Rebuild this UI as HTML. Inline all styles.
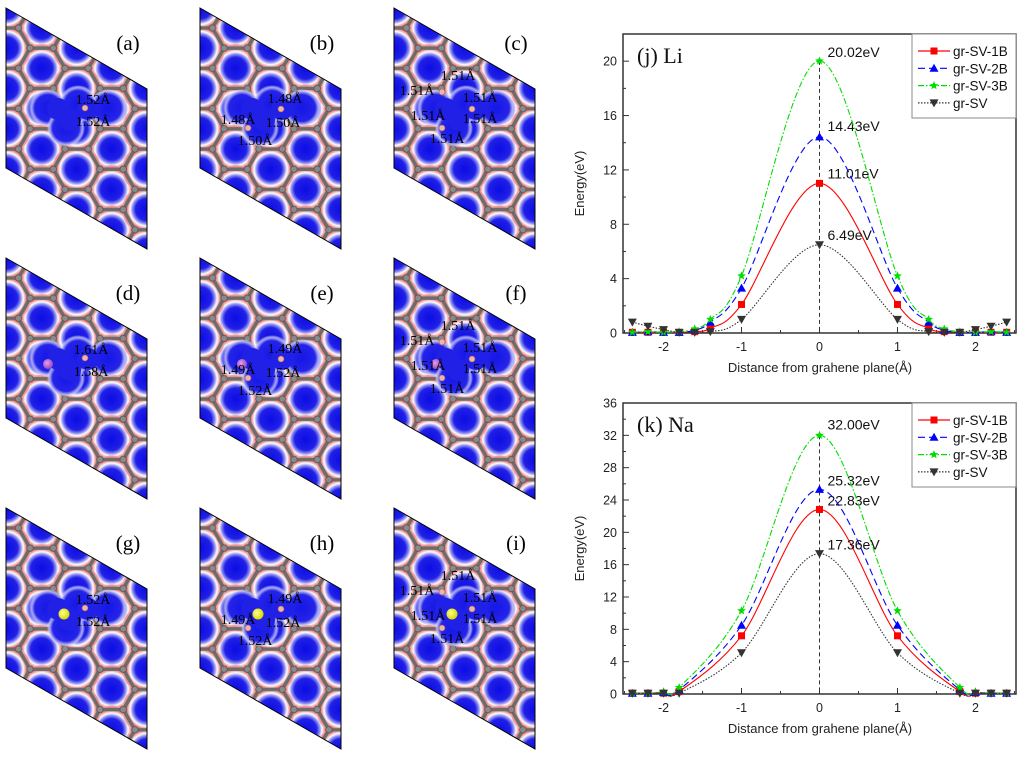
<!DOCTYPE html>
<html><head><meta charset="utf-8"><style>
html,body{margin:0;padding:0;background:#fff;}
svg{display:block;font-family:"Liberation Sans",sans-serif;}
.ser{font-family:"Liberation Serif",serif;}
</style></head><body>
<svg id="fig" width="1024" height="759" viewBox="0 0 1024 759" xmlns="http://www.w3.org/2000/svg">
<defs>
<radialGradient id="cg" cx="50%" cy="50%" r="50%">
<stop offset="0" stop-color="#0c0ce6"/><stop offset="0.45" stop-color="#2020e6"/><stop offset="0.58" stop-color="#8c8cf2"/><stop offset="0.68" stop-color="#ffffff"/><stop offset="0.82" stop-color="#ea6a6a"/><stop offset="1" stop-color="#f3a8a8"/>
</radialGradient>
<radialGradient id="bg" cx="50%" cy="50%" r="50%">
<stop offset="0" stop-color="#1616e8"/><stop offset="0.7" stop-color="#2424e8"/><stop offset="0.86" stop-color="#a8a8f4"/><stop offset="1" stop-color="#ffffff" stop-opacity="0"/>
</radialGradient>
<radialGradient id="yb" cx="40%" cy="40%" r="60%"><stop offset="0" stop-color="#ffff90"/><stop offset="1" stop-color="#d8d800"/></radialGradient>
<radialGradient id="pb" cx="40%" cy="40%" r="60%"><stop offset="0" stop-color="#e0a0f0"/><stop offset="1" stop-color="#9a4ab8"/></radialGradient>
</defs>
<g id="panels"></g>
<g id="charts"></g>
</svg>
<script>
var NS="http://www.w3.org/2000/svg";
function mk(t,a,p){var e=document.createElementNS(NS,t);for(var k in a)e.setAttribute(k,a[k]);if(p)p.appendChild(e);return e;}
var fig=document.getElementById('fig'),defs=fig.querySelector('defs');
var panelsG=document.getElementById('panels');

/* ---------- structure panels ---------- */
var panelOrigins=[[6,8],[200,8],[394,8],[6,258],[200,258],[394,258],[6,508],[200,508],[394,508]];
var panelLetters=['a','b','c','d','e','f','g','h','i'];
var labelsA=[['1.52Å',87,91],['1.52Å',87,113]];
var labelsB=[['1.48Å',85,90],['1.50Å',83,114],['1.48Å',38,111],['1.50Å',55,132]];
var labelsC=[['1.51Å',64,67],['1.51Å',23,82],['1.51Å',86,89],['1.51Å',34,107],['1.51Å',86,110],['1.51Å',53,130]];
var labelsD=[['1.61Å',85,91],['1.58Å',85,113]];
var labelsE=[['1.49Å',85,90],['1.52Å',83,114],['1.49Å',38,111],['1.52Å',55,132]];
var panelLabels=[labelsA,labelsB,labelsC,labelsD,labelsE,labelsC,labelsA,labelsE,labelsC];
var defectAtoms=[[[79,100]],[[81,101],[48,120]],[[48,84],[78,101],[48,120]]];
var R=23.3,W=3*R,H=Math.sqrt(3)*R;
function hexPts(cx,cy){var s='';for(var k=0;k<6;k++){var a=k*Math.PI/3;s+=(cx+R*Math.cos(a)).toFixed(1)+','+(cy+R*Math.sin(a)).toFixed(1)+' ';}return s;}
panelOrigins.forEach(function(o,i){
  var px=o[0],py=o[1];
  var pat=mk('pattern',{id:'pat'+i,patternUnits:'userSpaceOnUse',width:W,height:H,patternTransform:'translate('+(px+35.7)+','+(py+60.3)+')'},defs);
  mk('rect',{x:0,y:0,width:W,height:H,fill:'#f3a8a8'},pat);
  var cs=[[0,0],[W,0],[0,H],[W,H],[W/2,H/2]];
  cs.forEach(function(c){mk('circle',{cx:c[0],cy:c[1],r:R+1,fill:'url(#cg)'},pat);});
  cs.forEach(function(c){mk('polygon',{points:hexPts(c[0],c[1]),fill:'none',stroke:'#6c6c6c','stroke-width':3.4},pat);});
  cs.forEach(function(c){for(var k=0;k<6;k++){var a=k*Math.PI/3;mk('circle',{cx:c[0]+R*Math.cos(a),cy:c[1]+R*Math.sin(a),r:3.2,fill:'#8a8a8a',stroke:'#505050','stroke-width':0.6},pat);}});
  var g=mk('g',{transform:'translate('+px+','+py+')'},panelsG);
  
  
  var cp=mk('clipPath',{id:'clip'+i},defs);
  mk('polygon',{points:(px)+','+(py)+' '+(px+141)+','+(py+81)+' '+(px+141)+','+(py+241)+' '+(px)+','+(py+160)},cp);
  var inner=mk('g',{'clip-path':'url(#clip'+i+')',transform:'translate('+(-px)+','+(-py)+')'},g);
  mk('rect',{x:px,y:py,width:141,height:241,fill:'url(#pat'+i+')'},inner);
  var blob=mk('g',{transform:'translate('+px+','+py+')'},inner);
  [[42,100],[102,100],[60,120],[72,96]].forEach(function(c){mk('circle',{cx:c[0],cy:c[1],r:19,fill:'url(#bg)'},blob);});
  [[52,101],[82,101],[64,112]].forEach(function(c){mk('circle',{cx:c[0],cy:c[1],r:11,fill:'#2020e6'},blob);});
  mk('polygon',{points:'0,0 141,81 141,241 0,160',fill:'none',stroke:'#000','stroke-width':1},g);
  var da=defectAtoms[i%3];
  da.forEach(function(a){mk('circle',{cx:a[0],cy:a[1],r:3,fill:'#f0b4a8',stroke:'#a06060','stroke-width':0.6},g);});
  var row=Math.floor(i/3);
  if(row===1){var m=mk('circle',{cx:42,cy:106,r:5,fill:'url(#pb)'},g);}
  if(row===2){var m2=mk('circle',{cx:58,cy:106,r:5.5,fill:'url(#yb)'},g);}
  panelLabels[i].forEach(function(l){
    var t=mk('text',{x:l[1],y:l[2]+5,'text-anchor':'middle','font-size':14,'class':'ser',fill:'#000'},g);
    t.textContent=l[0];
    
    
  });
  var pl=mk('text',{x:122,y:42,'text-anchor':'middle','font-size':21,'class':'ser',fill:'#000'},g);
  pl.textContent='('+panelLetters[i]+')';
  
  
});

/* ---------- charts data ---------- */
var liX=[-2.4,-2.2,-2.0,-1.8,-1.6,-1.4,-1,0,1,1.4,1.6,1.8,2.0,2.2,2.4];
var li1B=[0.05,0.05,0.05,0.05,0.1,0.35,2.1,11.01,2.1,0.35,0.1,0.05,0.05,0.05,0.05];
var li2B=[0.05,0.1,0.05,0.05,0.2,0.8,3.3,14.43,3.3,0.8,0.2,0.05,0.05,0.1,0.05];
var li3B=[0.05,0.1,0.05,0.1,0.3,1.0,4.2,20.02,4.2,1.0,0.3,0.1,0.05,0.1,0.05];
var liSV=[0.8,0.5,0.25,0.05,0.05,0.1,1.0,6.49,1.0,0.1,0.05,0.05,0.25,0.5,0.8];
var liPeakLabels=['11.01eV','14.43eV','20.02eV','6.49eV'];
var liYTicks=[0,4,8,12,16,20];
var naX=[-2.4,-2.2,-2.0,-1.8,-1,0,1,1.8,2.0,2.2,2.4];
var na1B=[0.1,0.1,0.1,0.3,7.2,22.83,7.2,0.3,0.1,0.1,0.1];
var na2B=[0.1,0.1,0.2,0.5,8.5,25.32,8.5,0.5,0.2,0.1,0.1];
var na3B=[0.1,0.1,0.3,0.8,10.3,32.0,10.3,0.8,0.3,0.1,0.1];
var naSV=[0.1,0.1,0.1,0.1,5.1,17.36,5.1,0.1,0.1,0.1,0.1];
var naPeakLabels=['22.83eV','25.32eV','32.00eV','17.36eV'];
var naYTicks=[0,4,8,12,16,20,24,28,32,36];
var xTicks=[-2,-1,0,1,2];
var seriesNames=['gr-SV-1B','gr-SV-2B','gr-SV-3B','gr-SV'];

var chartsG=document.getElementById('charts');
var styles=[{c:'#ff0000',d:'',m:'sq'},{c:'#0000ff',d:'7,4',m:'tu'},{c:'#00dd00',d:'6,2,1.5,2',m:'st'},{c:'#333333',d:'1.5,1.5',m:'td'}];
function marker(g,type,x,y,col){
  var e;
  if(type==='sq')e=mk('rect',{x:x-3.5,y:y-3.5,width:7,height:7,fill:col},g);
  else if(type==='tu')e=mk('polygon',{points:x+','+(y-4.5)+' '+(x+4.5)+','+(y+3.5)+' '+(x-4.5)+','+(y+3.5),fill:col},g);
  else if(type==='td')e=mk('polygon',{points:x+','+(y+4.5)+' '+(x+4.5)+','+(y-3.5)+' '+(x-4.5)+','+(y-3.5),fill:col},g);
  else{var s='';for(var k=0;k<10;k++){var r=k%2?2:4.5,a=-Math.PI/2+k*Math.PI/5;s+=(x+r*Math.cos(a)).toFixed(1)+','+(y+r*Math.sin(a)).toFixed(1)+' ';}e=mk('polygon',{points:s,fill:col},g);}
  return e;
}
function spline(pts){
  var d='M'+pts[0][0]+','+pts[0][1];
  for(var i=0;i<pts.length-1;i++){
    var p0=pts[Math.max(0,i-1)],p1=pts[i],p2=pts[i+1],p3=pts[Math.min(pts.length-1,i+2)];
    var c1x=p1[0]+(p2[0]-p0[0])/6,c1y=p1[1]+(p2[1]-p0[1])/6,c2x=p2[0]-(p3[0]-p1[0])/6,c2y=p2[1]-(p3[1]-p1[1])/6;
    d+=' C'+c1x.toFixed(2)+','+c1y.toFixed(2)+' '+c2x.toFixed(2)+','+c2y.toFixed(2)+' '+p2[0].toFixed(2)+','+p2[1].toFixed(2);
  }
  return d;
}
function chart(o){
  var g=mk('g',{},chartsG);
  
  
  var L=623,Rr=1016,T=o.top,B=o.bottom;
  function sx(v){return L+(v+2.52)/(5.04)*(Rr-L);}
  function sy(v){return B-v/o.ymax*(B-T);}
  mk('rect',{x:L,y:T,width:Rr-L,height:B-T,fill:'none',stroke:'#333','stroke-width':1.5},g);
  var step=o.yt[1]-o.yt[0];
  for(var v=0;v<=o.ymax+1e-6;v+=step/2){var y=sy(v);var maj=Math.abs(v/step-Math.round(v/step))<1e-6;mk('line',{x1:L,x2:L+(maj?6:3),y1:y,y2:y,stroke:'#333','stroke-width':1},g);}
  o.yt.forEach(function(v){var t=mk('text',{x:L-6,y:sy(v)+4.5,'text-anchor':'end','font-size':12.5,fill:'#222'},g);t.textContent=v;});
  for(var xv=-2.5;xv<=2.5;xv+=0.5){var xx=sx(xv);var mj=Math.abs(xv-Math.round(xv))<1e-6;mk('line',{x1:xx,x2:xx,y1:B,y2:B-(mj?6:3),stroke:'#333','stroke-width':1},g);}
  xTicks.forEach(function(v){var t=mk('text',{x:sx(v),y:B+18,'text-anchor':'middle','font-size':12.5,fill:'#222'},g);t.textContent=v;});
  var xt=mk('text',{x:820,y:B+39,'text-anchor':'middle','font-size':13,fill:'#222'},g);xt.textContent='Distance from grahene plane(Å)';
  
  var yt=mk('text',{x:0,y:0,'text-anchor':'middle','font-size':13,fill:'#222',transform:'translate(584,'+((T+B)/2)+') rotate(-90)'},g);yt.textContent='Energy(eV)';
  
  var peak=Math.max.apply(null,o.series[2]);
  var vl=mk('line',{x1:sx(0),x2:sx(0),y1:sy(peak),y2:B,stroke:'#333','stroke-width':1,'stroke-dasharray':'4,3'},g);
  
  o.series.forEach(function(s,si){
    var st=styles[si];
    var pts=o.xs.map(function(x,k){return [sx(x),sy(s[k])];});
    var p=mk('path',{d:spline(pts),fill:'none',stroke:st.c,'stroke-width':1.1,'stroke-dasharray':st.d},g);
    
    
    pts.forEach(function(pt){var m=marker(g,st.m,pt[0],pt[1],st.c);});
    var idx=o.xs.indexOf(0);
    var lt=mk('text',{x:sx(0)+8,y:sy(s[idx])+o.lblDy[si],'font-size':14,fill:'#111'},g);
    lt.textContent=o.peaks[si];
    
    
  });
  var lg=mk('g',{},g);
  
  
  mk('rect',{x:912,y:T,width:104,height:84,fill:'#fff',stroke:'#888','stroke-width':1},lg);
  seriesNames.forEach(function(n,si){
    var st=styles[si],y=T+17+si*17.3;
    mk('line',{x1:918,x2:950,y1:y,y2:y,stroke:st.c,'stroke-width':1.2,'stroke-dasharray':st.d},lg);
    marker(lg,st.m,934,y,st.c);
    var t=mk('text',{x:953,y:y+5,'font-size':13.5,fill:'#111'},lg);t.textContent=n;
    
  });
  var tl=mk('text',{x:637,y:T+29,'font-size':22,'class':'ser',fill:'#111'},g);tl.textContent=o.title;
  
}
chart({name:'li-energy-chart',top:34,bottom:333,ymax:22,yt:liYTicks,xs:liX,series:[li1B,li2B,li3B,liSV],peaks:liPeakLabels,lblDy:[-5,-6,-4,-5],title:'(j) Li'});
chart({name:'na-energy-chart',top:403,bottom:694,ymax:36,yt:naYTicks,xs:naX,series:[na1B,na2B,na3B,naSV],peaks:naPeakLabels,lblDy:[-4,-4,-6,-4],title:'(k) Na'});
</script>
</body></html>
